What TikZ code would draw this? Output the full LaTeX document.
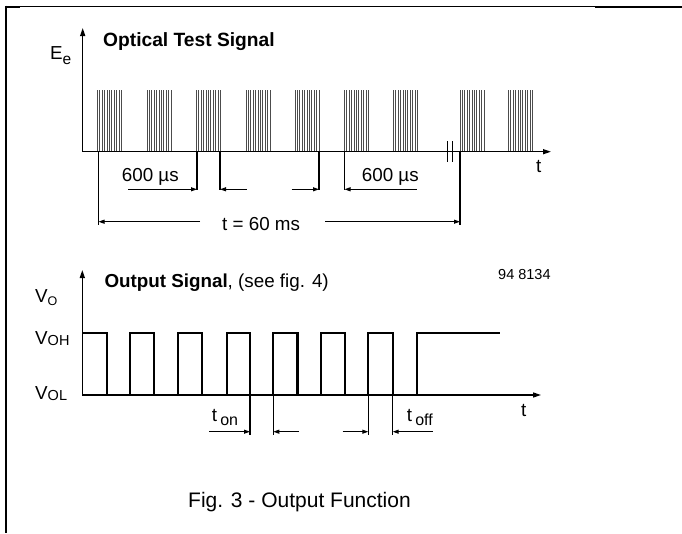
\documentclass[tikz,border=0pt]{standalone}
\usepackage{fontspec}
\setmainfont{Liberation Sans}
\usetikzlibrary{arrows.meta}
\begin{document}
\begin{tikzpicture}[x=1pt,y=-1pt,
  ax/.style={line width=1.4pt, -{Triangle[length=8pt,width=5pt]}},
  burst/.style={line width=0.95pt, black!70},
  wave/.style={line width=2.2pt, line join=miter},
  ext/.style={line width=1.1pt},
  dimarrow/.style={line width=1pt, -{Triangle[length=6pt,width=4pt]}},
  lbl/.style={font=\fontsize{18.8}{20}\selectfont, inner sep=0pt, anchor=base west},
]
\useasboundingbox (0,0) rectangle (682,533);
% frame
\draw[line width=0.9pt] (6,6.5) -- (682,6.5);
\draw[line width=2pt] (6,6.5) -- (20,6.5);
\draw[line width=2pt] (595,6.5) -- (682,6.5);
\draw[line width=1.8pt] (6,5.5) -- (6,533);

% ---------------- Optical test signal ----------------
\coordinate (o0) at (82.7,151.7);
\coordinate (oy) at (82.7,28);
\coordinate (ox) at (551,151.7);
\foreach \s in {97.5,147,196.5,246,295,344.5,393.5,460,508.5}{
  \foreach \k in {0,...,10}{
    \draw[burst] (\s+2.4*\k,90) -- (\s+2.4*\k,151.7);
  }
}
\draw[ax] (o0) -- (oy);
\draw[ax] (o0) -- (ox);
% break mark
\draw[line width=1.3pt] (447.7,141) -- (447.7,162);
\draw[line width=1.3pt] (452.3,141) -- (452.3,162);

\node[lbl, font=\fontsize{19.2}{20}\selectfont\bfseries] (title1) at (103,46) {Optical Test Signal};
\node[lbl] (ee) at (50,59.5) {E\raisebox{-5pt}{\fontsize{15.5}{15}\selectfont e}};
\node[lbl] (t1) at (536,172) {t};

% extension lines
\coordinate (e1) at (98.5,225);
\coordinate (e2) at (197,190);
\coordinate (e3) at (220,190);
\coordinate (e4) at (319,190);
\coordinate (e5) at (344.5,190);
\coordinate (e6) at (460,225);
\foreach \c in {e1,e2,e3,e4,e5,e6}{
  \draw[ext] (\c |- o0) -- (\c);
}
% dimension arrows
\draw[dimarrow] (128,189.3) -- (e2 |- 0,189.3);
\draw[dimarrow] (246.7,189.3) -- (e3 |- 0,189.3);
\draw[dimarrow] (291.7,189.3) -- (e4 |- 0,189.3);
\draw[dimarrow] (416.7,189.3) -- (e5 |- 0,189.3);
\draw[dimarrow] (200,221.7) -- (e1 |- 0,221.7);
\draw[dimarrow] (325,221.7) -- (e6 |- 0,221.7);
\node[lbl] (d1) at (121.7,181.7) {600 µs};
\node[lbl] (d2) at (361.7,181.7) {600 µs};
\node[lbl] (d3) at (222,230) {t = 60 ms};

% ---------------- Output signal ----------------
\coordinate (q0) at (82.3,395);
\coordinate (qy) at (82.3,270);
\coordinate (qx) at (541,395);
\draw[ax] (q0) -- (qy);
\draw[ax] (q0) -- (qx);
\draw[wave] (82.3,332.7)
  -- (106.7,332.7) -- (106.7,395) -- (130,395) -- (130,332.7)
  -- (154.3,332.7) -- (154.3,395) -- (177.7,395) -- (177.7,332.7)
  -- (202.3,332.7) -- (202.3,395) -- (226.7,395) -- (226.7,332.7)
  -- (250,332.7) -- (250,395) -- (273.3,395) -- (273.3,332.7)
  -- (297.5,332.7) -- (297.5,395) -- (320.7,395) -- (320.7,332.7)
  -- (345,332.7) -- (345,395) -- (368.3,395) -- (368.3,332.7)
  -- (392.7,332.7) -- (392.7,395) -- (416.7,395) -- (416.7,332.7)
  -- (500,332.7);

\node[lbl] (title2) at (104.3,287.3) {\textbf{Output Signal}, (see fig. 4)};
\node[lbl, font=\fontsize{14.5}{16}\selectfont] (num) at (498,279) {94 8134};
\node[lbl] (vo) at (35,302.7) {V\raisebox{-2.3pt}{\fontsize{12.5}{12}\selectfont O}};
\node[lbl] (voh) at (35,344.3) {V\raisebox{-1.5pt}{\fontsize{14.5}{14}\selectfont OH}};
\node[lbl] (vol) at (35,399) {V\raisebox{-1.5pt}{\fontsize{14.5}{14}\selectfont OL}};
\node[lbl] (t2) at (521,416) {t};

\coordinate (f1) at (250,435);
\coordinate (f2) at (273.3,435);
\coordinate (f3) at (368.3,435);
\coordinate (f4) at (392.7,435);
\foreach \c in {f1,f2,f3,f4}{
  \draw[ext] (\c |- q0) -- (\c);
}
\draw[dimarrow] (209.3,431.7) -- (f1 |- 0,431.7);
\draw[dimarrow] (299,431.7) -- (f2 |- 0,431.7);
\draw[dimarrow] (342.7,431.7) -- (f3 |- 0,431.7);
\draw[dimarrow] (432.7,431.7) -- (f4 |- 0,431.7);
\node[lbl] (ton) at (211.7,421.7) {t\,\raisebox{-3.3pt}{\fontsize{16}{16}\selectfont on}};
\node[lbl] (toff) at (406.7,421.7) {t\,\raisebox{-3.3pt}{\fontsize{16}{16}\selectfont off}};

\node[lbl, font=\fontsize{21}{24}\selectfont] (cap) at (188,507) {Fig. 3 - Output Function};
\end{tikzpicture}
\end{document}
